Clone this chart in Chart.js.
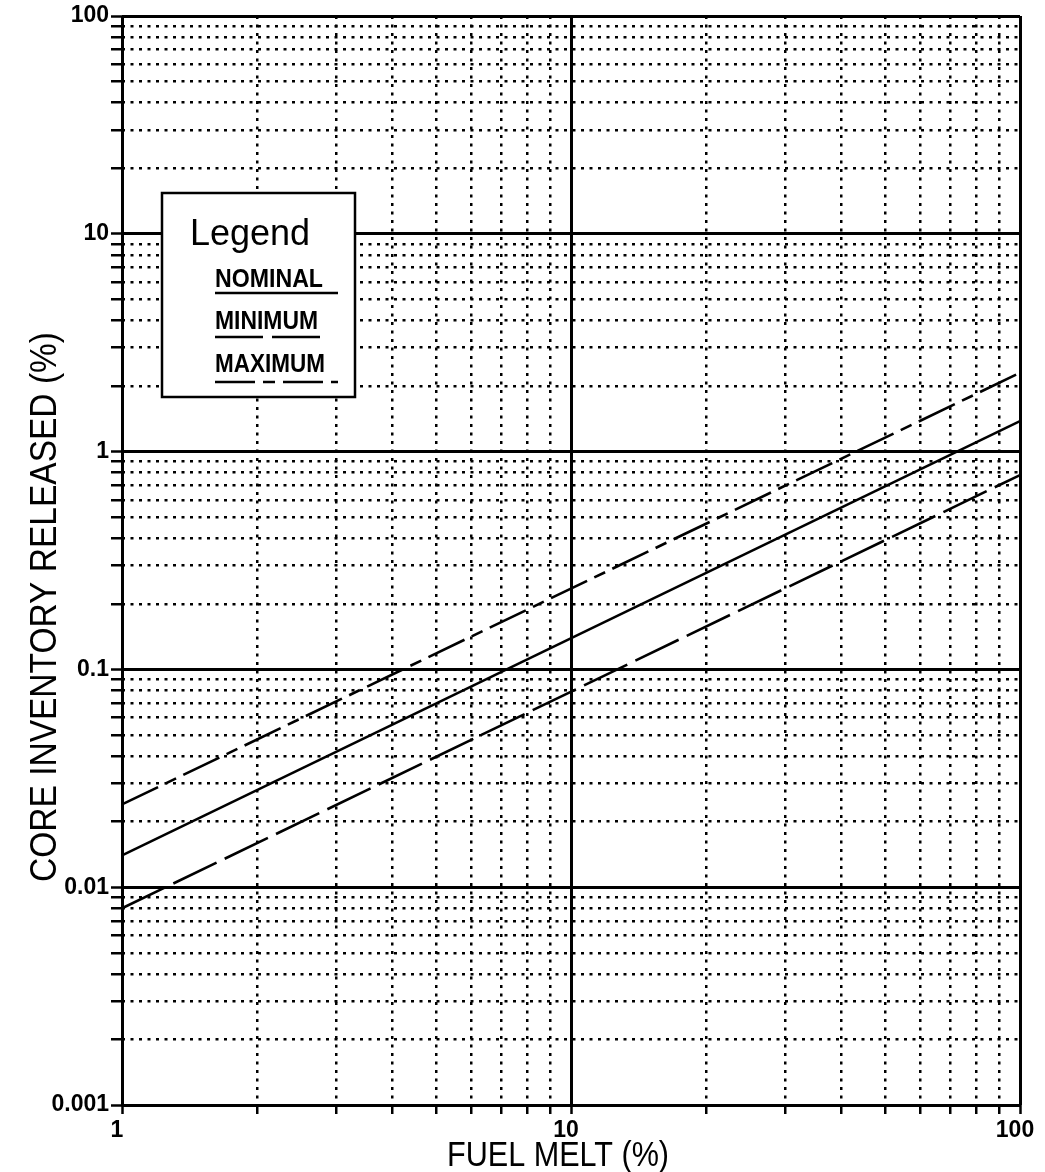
<!DOCTYPE html>
<html>
<head>
<meta charset="utf-8">
<script src="https://cdn.jsdelivr.net/npm/chart.js@4/dist/chart.umd.min.js"></script>
<style>
  html, body { margin: 0; padding: 0; background: #fff; }
  #wrap { width: 1045px; height: 1172px; }
</style>
</head>
<body>
<div id="wrap"><canvas id="releaseChart" width="1045" height="1172"></canvas></div>
<script>
// values (straight lines on log-log paper)
const fuelMelt = [1, 100]
const nominal = [0.014, 1.38]
const minimum = [0.008, 0.78]
const maximum = [0.024, 2.3]

const xTickValues = [1, 2, 3, 4, 5, 6, 7, 8, 9, 10, 20, 30, 40, 50, 60, 70, 80, 90, 100]
const yTickValues = [
  0.001, 0.002, 0.003, 0.004, 0.005, 0.006, 0.007, 0.008, 0.009,
  0.01, 0.02, 0.03, 0.04, 0.05, 0.06, 0.07, 0.08, 0.09,
  0.1, 0.2, 0.3, 0.4, 0.5, 0.6, 0.7, 0.8, 0.9,
  1, 2, 3, 4, 5, 6, 7, 8, 9,
  10, 20, 30, 40, 50, 60, 70, 80, 90, 100,
]
const xLabels = { 1: "1", 10: "10", 100: "100" }
const yLabels = { 0.001: "0.001", 0.01: "0.01", 0.1: "0.1", 1: "1", 10: "10", 100: "100" }

const seriesNames = ["NOMINAL", "MINIMUM", "MAXIMUM"]
const seriesDash = [[], [48, 9], [40, 8, 12, 8]]

const FONT = "'Liberation Sans', Arial, sans-serif"

function isDecade(v) {
  const l = Math.log10(v)
  return Math.abs(l - Math.round(l)) < 1e-9
}

function gridWidth(ctx) {
  return ctx.tick && isDecade(ctx.tick.value) ? 3 : 2.5
}

function gridDash(ctx) {
  if (!ctx.tick) return []
  return isDecade(ctx.tick.value) ? [] : [3, 5.5]
}

// draw text squeezed to a given width (the original lettering is condensed)
function fitText(ctx, text, x, y, width, font) {
  ctx.save()
  ctx.font = font
  const w = ctx.measureText(text).width
  ctx.translate(x, y)
  ctx.scale(width / w, 1)
  ctx.fillText(text, 0, 0)
  ctx.restore()
}

const paperPlugin = {
  id: "paper",
  afterDraw(chart) {
    const ctx = chart.ctx
    ctx.save()
    ctx.fillStyle = "#000"
    ctx.textBaseline = "alphabetic"

    // axis titles
    ctx.textAlign = "left"
    fitText(ctx, "FUEL MELT (%)", 447, 1166, 222, "35px " + FONT)
    ctx.save()
    ctx.translate(56, 882)
    ctx.rotate(-Math.PI / 2)
    fitText(ctx, "CORE INVENTORY RELEASED (%)", 0, 0, 550, "37px " + FONT)
    ctx.restore()

    // legend box
    const bx = 162, by = 193, bw = 193, bh = 204
    ctx.fillStyle = "#fff"
    ctx.fillRect(bx, by, bw, bh)
    ctx.strokeStyle = "#000"
    ctx.lineWidth = 2.5
    ctx.strokeRect(bx, by, bw, bh)
    ctx.fillStyle = "#000"
    ctx.font = "36px " + FONT
    ctx.fillText("Legend", 190, 245)

    const rows = [
      { base: 287, line: 293, textW: 108, lineW: 123 },
      { base: 329, line: 337, textW: 103, lineW: 108 },
      { base: 372, line: 382, textW: 110, lineW: 123 },
    ]
    rows.forEach((r, i) => {
      fitText(ctx, seriesNames[i], 215, r.base, r.textW, "bold 26px " + FONT)
      ctx.save()
      ctx.lineWidth = 2.5
      ctx.setLineDash(seriesDash[i])
      ctx.beginPath()
      ctx.moveTo(215, r.line)
      ctx.lineTo(215 + r.lineW, r.line)
      ctx.stroke()
      ctx.restore()
    })
    ctx.restore()
  },
}

function createReleaseChart() {
  const series = [nominal, minimum, maximum]
  const data = {
    datasets: series.map((values, i) => ({
      label: seriesNames[i],
      data: fuelMelt.map((x, j) => ({ x: x, y: values[j] })),
      borderColor: "#000",
      borderWidth: 2.6,
      borderDash: seriesDash[i],
      pointRadius: 0,
      fill: false,
      tension: 0,
    })),
  }

  const config = {
    type: "line",
    data: data,
    options: {
      responsive: false,
      animation: false,
      devicePixelRatio: 1,
      layout: { padding: { top: 16, right: 25, left: 0, bottom: 0 } },
      plugins: {
        legend: { display: false },
        tooltip: { enabled: false },
      },
      scales: {
        x: {
          type: "logarithmic",
          min: 1,
          max: 100,
          afterBuildTicks: (scale) => {
            scale.ticks = xTickValues.map((v) => ({ value: v }))
          },
          afterFit: (scale) => {
            scale.height = 67
          },
          ticks: {
            autoSkip: false,
            maxRotation: 0,
            padding: 3,
            labelOffset: -5,
            color: "#000",
            font: { family: FONT, size: 23, weight: "bold" },
            callback: (value) => xLabels[value] || "",
          },
          grid: {
            color: "#000",
            lineWidth: gridWidth,
            tickLength: 9,
            tickWidth: 2.5,
            tickColor: "#000",
          },
          border: { display: false, dash: gridDash },
        },
        y: {
          type: "logarithmic",
          min: 0.001,
          max: 100,
          afterBuildTicks: (scale) => {
            scale.ticks = yTickValues.map((v) => ({ value: v }))
          },
          afterFit: (scale) => {
            scale.width = 122
          },
          ticks: {
            autoSkip: false,
            padding: 2,
            color: "#000",
            font: { family: FONT, size: 23, weight: "bold" },
            callback: (value) => yLabels[value] || "",
          },
          grid: {
            color: "#000",
            lineWidth: gridWidth,
            tickLength: 11,
            tickWidth: 2.5,
            tickColor: "#000",
          },
          border: { display: false, dash: gridDash },
        },
      },
    },
    plugins: [paperPlugin],
  }

  const ctx = document.getElementById("releaseChart")
  const releaseChart = new Chart(ctx, config)
}

document.addEventListener("DOMContentLoaded", () => {
  createReleaseChart()
})
</script>
</body>
</html>
